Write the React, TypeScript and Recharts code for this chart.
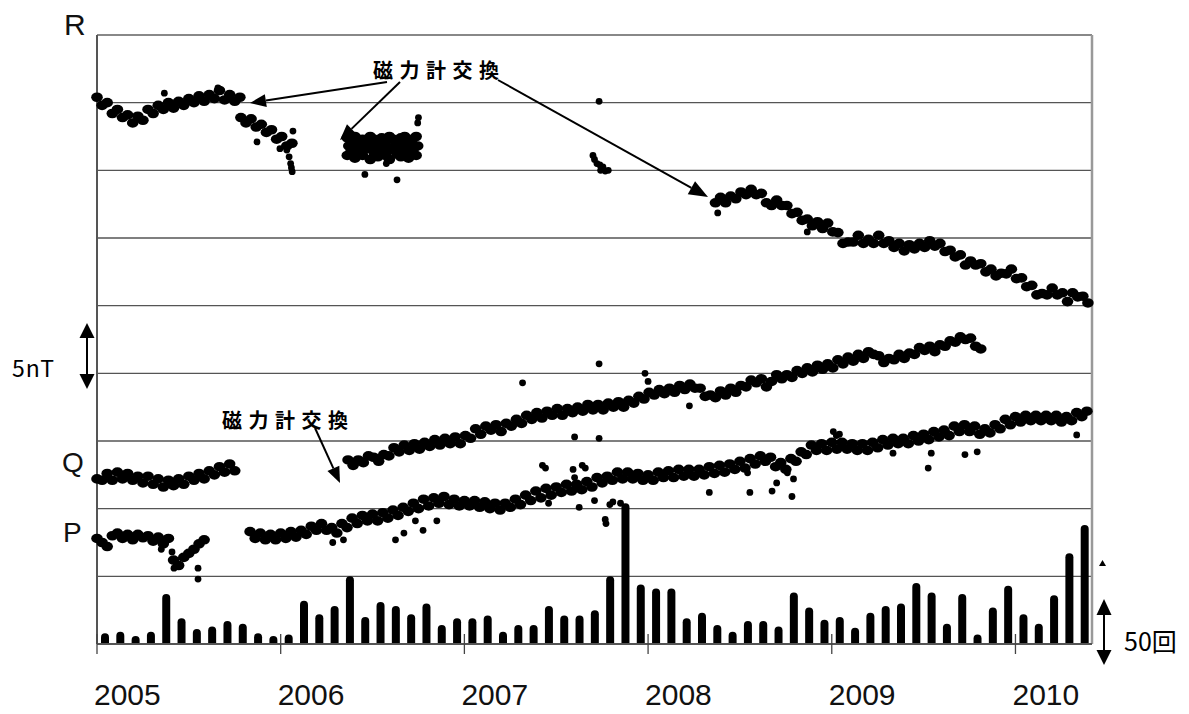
import { ComposedChart, Bar, Scatter, XAxis, YAxis, CartesianGrid, ReferenceLine } from 'recharts'

// month index from Jan 2005 = 0 ; nT values are relative (one grid step = 5 nT)
const YEAR_TICKS = [0, 12, 24, 36, 48, 60]
const YEAR_LABELS = ['2005', '2006', '2007', '2008', '2009', '2010']
const NT_TICKS = [0, 5, 10, 15, 20, 25, 30, 35, 40, 45]

// monthly earthquake counts
const COUNTS = [
  8, 9, 6, 9, 37, 19, 11, 13, 17, 15, 8, 6,
  7, 32, 22, 28, 50, 20, 31, 28, 22, 30, 14, 19,
  19, 21, 9, 14, 14, 28, 21, 21, 25, 50, 104, 44,
  41, 41, 19, 23, 14, 9, 17, 17, 13, 38, 27, 18,
  20, 12, 23, 28, 30, 45, 38, 15, 37, 7, 27, 43,
  22, 15, 36, 67, 88,
]

// R station, sampled every ~10 days
const R1 = [40.4, 39.8, 40.0, 39.2, 39.5, 38.9, 39.1, 38.5, 39.0, 38.7, 39.5, 39.2, 39.8, 39.5, 40.0, 39.6, 40.1, 39.8, 40.3, 40.0, 40.5, 40.1, 40.6, 40.3, 40.9, 40.2, 40.6, 40.1, 40.4]
const R1_EXTRA = [[4.4, 40.7], [7.9, 41.1]]
const R2 = [38.9, 38.5, 38.8, 38.2, 38.4, 37.8, 38.0, 37.3, 37.5, 36.8, 37.0]
const R2_EXTRA = [[12.4, 36.5], [12.55, 36.0], [12.65, 35.5], [12.7, 35.2], [12.75, 34.9], [10.45, 37.1], [12.8, 37.9], [11.95, 36.6]]
const R3_TOP = [37.4, 37.2, 37.5, 37.2, 37.3, 37.1, 37.5, 37.3, 37.2, 37.4, 37.2, 37.5, 37.3, 37.1, 37.4, 37.5, 37.2, 37.3, 37.5]
const R3_MID = [36.8, 36.65, 36.9, 36.7, 36.6, 37.0, 36.7, 36.8, 36.65, 36.9, 36.7, 36.6, 36.8, 37.0, 36.65, 36.7, 36.9, 36.65, 36.8]
const R3_LOW = [36.1, 36.5, 35.9, 36.4, 36.1, 36.6, 35.8, 36.3, 36.0, 36.4, 36.1, 35.8, 36.5, 36.2, 36.0, 36.4, 35.9, 36.5, 36.1]
const R3_EXTRA = [[20.95, 38.5], [21.0, 38.9], [17.5, 34.7], [19.6, 34.3], [18.9, 35.5]]
const R4 = [[32.8, 40.1], [32.4, 36.1], [32.5, 35.8], [32.66, 35.5], [32.85, 35.4], [33.05, 35.25], [33.2, 34.95], [32.9, 35.0], [33.4, 35.0]]
const R5 = [
  32.6, 33.0, 32.6, 33.1, 32.9, 33.4, 33.2, 33.6, 33.2, 33.3,
  32.6, 32.4, 32.8, 32.4, 32.4, 31.8, 31.9, 31.3, 31.4, 30.9,
  31.2, 30.7, 31.1, 30.45, 30.4, 29.6, 29.7, 29.7, 30.2, 29.6,
  29.9, 29.6, 30.2, 29.6, 29.8, 29.3, 29.6, 29.05, 29.5, 29.2,
  29.6, 29.3, 29.8, 29.4, 29.6, 29.0, 29.1, 28.6, 28.75, 28.0,
  28.3, 28.0, 28.1, 27.5, 27.7, 27.2, 27.4, 27.35, 27.7, 27.0,
  27.05, 26.4, 26.5, 25.8, 25.9, 25.8, 26.3, 25.8, 25.95, 25.3,
  25.95, 25.65, 25.7, 25.2,
]
const R5_EXTRA = [[40.55, 31.85], [46.4, 30.45]]

// Q station
const Q1 = [12.2, 12.1, 12.6, 12.1, 12.7, 12.2, 12.6, 12.1, 12.4, 11.9, 12.4, 11.8, 12.2, 11.6, 12.1, 11.7, 12.2, 11.8, 12.4, 12.1, 12.6, 12.2, 12.8, 12.5, 13.1, 12.7, 13.3, 12.8]
const Q2 = [
  13.6, 13.2, 13.6, 13.4, 13.9, 13.8, 13.5, 14.0, 13.9, 14.5,
  14.2, 14.7, 14.3, 14.8, 14.4, 14.9, 14.6, 15.1, 14.7, 15.2,
  14.8, 15.3, 14.8, 15.4, 15.2, 15.9, 15.5, 16.1, 15.8, 16.2,
  15.7, 16.3, 16.1, 16.6, 16.3, 16.9, 16.6, 17.1, 16.7, 17.2,
  16.9, 17.4, 16.9, 17.4, 17.1, 17.5, 17.2, 17.7, 17.3, 17.7,
  17.3, 17.8, 17.5, 17.9, 17.5, 18.0, 17.8, 18.3, 18.1, 18.6,
  18.4, 18.8, 18.5, 18.9, 18.6, 19.1, 18.8, 19.2, 18.9, 18.9,
  18.3, 18.4, 18.2, 18.7, 18.4, 18.9, 18.6, 19.1, 19.0, 19.5,
  19.3, 19.6, 19.0, 19.4, 19.9, 19.6, 19.9, 19.7, 20.2, 20.0,
  20.4, 20.1, 20.6, 20.3, 20.7, 20.4, 21.0, 20.7, 21.2, 20.9,
  21.4, 21.1, 21.6, 21.4, 21.3, 20.8, 21.1, 21.0, 21.4, 21.1,
  21.5, 21.4, 21.9, 21.7, 22.0, 21.6, 22.1, 22.0, 22.4, 22.3,
  22.7, 22.5, 22.6, 22.0, 21.8,
]
const Q2_EXTRA = [[27.8, 19.3], [32.8, 20.7], [35.8, 20.0], [36.0, 19.4], [31.2, 15.3], [32.8, 15.2], [38.7, 17.6]]

// P station
const P1 = [7.8, 7.5, 7.2, 8.0, 8.2, 7.8, 8.1, 7.7, 8.1, 7.85, 8.0, 7.6, 7.9, 7.4, 7.8, 6.2, 5.8, 6.4, 6.7, 7.0, 7.4, 7.7]
const P1_EXTRA = [[4.9, 6.8], [5.03, 5.6], [4.2, 7.0], [6.6, 5.6], [6.6, 4.8]]
const P2 = [
  8.3, 7.8, 8.2, 7.7, 8.1, 7.7, 8.2, 7.8, 8.3, 7.9,
  8.4, 8.1, 8.7, 8.4, 8.9, 8.4, 8.6, 8.2, 8.9, 8.6,
  9.3, 8.9, 9.5, 9.1, 9.6, 9.1, 9.7, 9.3, 9.9, 9.5,
  10.1, 9.8, 10.4, 10.0, 10.7, 10.2, 10.8, 10.4, 10.9, 10.3,
  10.7, 10.2, 10.6, 10.2, 10.6, 10.1, 10.5, 10.0, 10.4, 9.9,
  10.4, 10.1, 10.7, 10.3, 11.0, 10.6, 11.3, 10.8, 11.5, 11.0,
  11.6, 11.2, 11.8, 11.3, 11.8, 11.4, 12.0, 11.6, 12.3, 11.9,
  12.4, 12.1, 12.7, 12.2, 12.7, 12.2, 12.6, 12.1, 12.5, 12.1,
  12.7, 12.3, 12.8, 12.3, 12.9, 12.4, 12.9, 12.4, 12.9, 12.5,
  13.1, 12.6, 13.2, 12.7, 13.3, 12.9, 13.5, 13.0, 13.7, 13.3,
  13.9, 13.5, 13.8, 13.1, 13.4, 12.9, 13.7, 13.5, 14.2, 14.0,
  14.7, 14.3, 14.8, 14.3, 14.9, 14.4, 14.9, 14.4, 14.8, 14.3,
  14.8, 14.3, 14.9, 14.5, 15.1, 14.7, 15.2, 14.8, 15.2, 14.8,
  15.4, 15.0, 15.5, 15.1, 15.7, 15.3, 15.8, 15.4, 16.1, 15.7,
  16.2, 15.7, 16.1, 15.5, 15.9, 15.6, 16.2, 15.9, 16.6, 16.2,
  16.8, 16.4, 16.9, 16.5, 16.9, 16.5, 16.9, 16.5, 16.9, 16.4,
  16.8, 16.5, 17.1, 16.8, 17.2,
]
const P2_EXTRA = [
  [15.4, 7.5], [16.1, 7.7], [19.5, 7.7], [20.05, 8.2], [20.8, 9.1], [21.3, 8.4], [22.2, 9.1],
  [29.5, 10.4], [29.1, 13.2], [29.3, 13.0], [31.1, 12.9], [31.2, 12.3], [31.7, 13.2], [31.9, 13.0],
  [31.5, 10.1], [32.5, 10.6], [33.2, 9.2], [33.25, 8.9], [33.5, 10.3], [33.7, 10.5], [34.2, 10.4],
  [40.0, 11.2], [42.5, 12.65], [42.65, 11.2], [44.1, 11.3], [44.4, 11.9], [45.1, 12.65], [45.5, 12.2],
  [45.4, 10.9], [48.1, 15.7], [48.3, 15.4], [48.5, 15.5], [52.0, 14.1], [54.3, 13.0], [54.5, 14.1],
  [56.7, 14.0], [57.5, 14.2], [64.0, 15.45],
]

const seq = (start: number, step: number, vals: number[]) => vals.map((y, i) => ({ x: start + i * step, y }))
const pairs = (list: number[][]) => list.map(([x, y]) => ({ x, y }))

const barData = COUNTS.map((count, i) => ({ x: i + 0.5, count }))

// dense daily-ish bands
const bandPoints = [
  ...seq(0, 1 / 3, R1), ...seq(9.4, 1 / 3, R2),
  ...seq(16.35, 0.25, R3_TOP), ...seq(16.45, 0.25, R3_MID), ...seq(16.35, 0.25, R3_LOW),
  ...seq(40.4, 1 / 3, R5),
  ...seq(0, 1 / 3, Q1), ...seq(16.4, 1 / 3, Q2),
  ...seq(0, 1 / 3, P1), ...seq(10.0, 1 / 3, P2),
]
// isolated readings
const loosePoints = [
  ...pairs(R1_EXTRA), ...pairs(R2_EXTRA), ...pairs(R3_EXTRA), ...pairs(R4), ...pairs(R5_EXTRA),
  ...pairs(Q2_EXTRA), ...pairs(P1_EXTRA), ...pairs(P2_EXTRA),
]

// band samples stand for several overlapping daily dots, so they are drawn wider
const BandDot = (p: any) => <ellipse cx={p.cx} cy={p.cy} rx={5.8} ry={4.8} fill="#000" />
const LooseDot = (p: any) => <circle cx={p.cx} cy={p.cy} r={3.4} fill="#000" />

const YearTick = (p: any) => {
  const { x, y, payload } = p
  const idx = YEAR_TICKS.indexOf(payload.value)
  return (
    <g>
      <line x1={x} x2={x} y1={y - 20} y2={y} stroke="#444" strokeWidth={1.3} />
      <text x={x - 3} y={y + 51} fontSize={30} fontFamily="'Liberation Sans', Arial, sans-serif" fill="#111">
        {YEAR_LABELS[idx]}
      </text>
    </g>
  )
}

function Arrow({ x1, y1, x2, y2, head = 16, w = 6.5 }: { x1: number; y1: number; x2: number; y2: number; head?: number; w?: number }) {
  const len = Math.hypot(x2 - x1, y2 - y1)
  const ux = (x2 - x1) / len
  const uy = (y2 - y1) / len
  const bx = x2 - ux * head
  const by = y2 - uy * head
  return (
    <g>
      <line x1={x1} y1={y1} x2={bx} y2={by} stroke="#000" strokeWidth={2} />
      <polygon points={`${x2},${y2} ${bx - uy * w},${by + ux * w} ${bx + uy * w},${by - ux * w}`} fill="#000" />
    </g>
  )
}

const jp = "'Noto Sans CJK JP', sans-serif"
const latin = "'Liberation Sans', Arial, sans-serif"

export default function App() {
  return (
    <div style={{ position: 'absolute', left: 0, top: 0, width: 1189, height: 714, background: '#fff' }}>
      <ComposedChart width={1189} height={714} data={barData} margin={{ top: 35, right: 97, bottom: 10, left: 97 }}>
        <CartesianGrid vertical={false} stroke="#555" strokeWidth={1.3} />
        <XAxis
          dataKey="x"
          type="number"
          domain={[0, 65]}
          ticks={YEAR_TICKS}
          height={60}
          tickSize={10}
          tickMargin={0}
          tickLine={false}
          axisLine={{ stroke: '#555', strokeWidth: 2 }}
          tick={<YearTick />}
          interval={0}
        />
        <XAxis xAxisId="bar" dataKey="x" type="number" domain={[0, 65]} hide />
        <YAxis hide domain={[0, 45]} ticks={NT_TICKS} />
        <YAxis yAxisId="cnt" hide domain={[0, 450]} />
        <ReferenceLine y={45} stroke="#888" strokeWidth={2} />
        <ReferenceLine x={65} stroke="#999" strokeWidth={2.5} />
        <ReferenceLine x={0} stroke="#555" strokeWidth={2} />
        <Bar xAxisId="bar" yAxisId="cnt" dataKey="count" barSize={8} fill="#000" radius={[4, 4, 0, 0]} isAnimationActive={false} />
        <Scatter data={bandPoints} dataKey="y" shape={BandDot} isAnimationActive={false} />
        <Scatter data={loosePoints} dataKey="y" shape={LooseDot} isAnimationActive={false} />
      </ComposedChart>
      <svg width={1189} height={714} style={{ position: 'absolute', left: 0, top: 0, pointerEvents: 'none' }}>
        <text x={64} y={35} fontSize={30} fontFamily={latin} fill="#111">R</text>
        <text x={62} y={472} fontSize={28} fontFamily={latin} fill="#111">Q</text>
        <text x={63} y={542} fontSize={28} fontFamily={latin} fill="#111">P</text>

        <text x={12} y={377} fontSize={23} fontFamily={jp} fill="#000" letterSpacing={1}>5nT</text>
        <line x1={87} y1={336} x2={87} y2={376} stroke="#000" strokeWidth={2} />
        <polygon points="87,323 79.5,338 94.5,338" fill="#000" />
        <polygon points="87,389 79.5,374 94.5,374" fill="#000" />

        <text x={1124} y={651} fontSize={25} fontFamily={jp} fill="#000">50回</text>
        <line x1={1104} y1={613} x2={1104} y2={652} stroke="#000" strokeWidth={2} />
        <polygon points="1104,599 1096.5,615 1111.5,615" fill="#000" />
        <polygon points="1104,665 1096.5,650 1111.5,650" fill="#000" />
        <polygon points="1099,566 1106,566 1102.5,560" fill="#000" />

        <text x={373} y={78} fontSize={20} fontWeight={700} fontFamily={jp} letterSpacing={6.5} fill="#000">磁力計交換</text>
        <Arrow x1={387} y1={82} x2={250} y2={103} />
        <Arrow x1={400} y1={82} x2={340} y2={140} />
        <Arrow x1={498} y1={80} x2={708} y2={197} head={19} w={7.5} />

        <text x={222} y={428} fontSize={20} fontWeight={700} fontFamily={jp} letterSpacing={6.5} fill="#000">磁力計交換</text>
        <Arrow x1={315} y1={428} x2={340} y2={483} />
      </svg>
    </div>
  )
}
